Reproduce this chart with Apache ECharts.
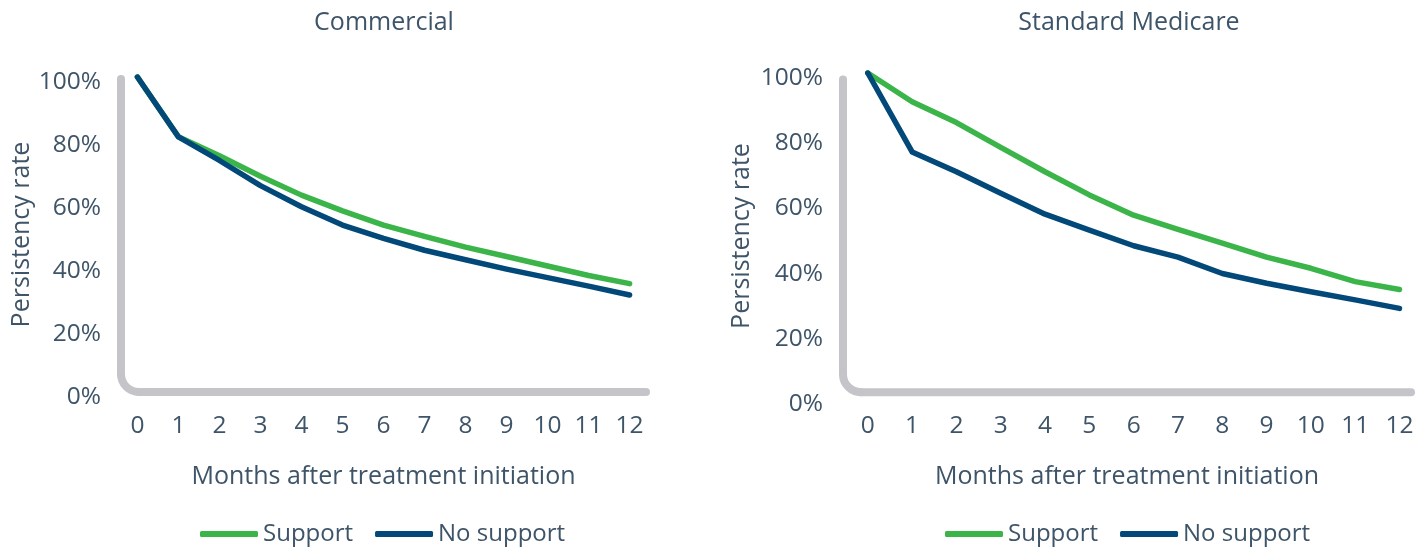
<!DOCTYPE html>
<html>
<head>
<meta charset="utf-8">
<script src="https://cdn.jsdelivr.net/npm/echarts@6/dist/echarts.min.js"></script>
<style>
  html, body { margin: 0; padding: 0; background: #fff; }
  #chart { width: 1428px; height: 549px; }
</style>
</head>
<body>
<div id="chart"></div>
<script>
const months = [0, 1, 2, 3, 4, 5, 6, 7, 8, 9, 10, 11, 12];
const yTicks = [0, 20, 40, 60, 80, 100];

const commercialSupport = [100, 81, 75, 68.5, 62.5, 57.5, 53, 49.4, 46, 43, 40, 37, 34.4];
const commercialNoSupport = [100, 81, 73.5, 65.5, 58.8, 53, 48.8, 45, 42, 39, 36.3, 33.6, 30.8];
const medicareSupport = [100, 91.2, 84.8, 77.2, 69.7, 62.6, 56.4, 52, 47.8, 43.5, 40.1, 36, 33.6];
const medicareNoSupport = [100, 75.8, 69.7, 63.1, 56.7, 51.8, 47, 43.5, 38.5, 35.5, 32.9, 30.4, 27.8];

const titles = ['Commercial', 'Standard Medicare'];
const seriesNames = ['Support', 'No support'];

const GREEN = '#3bb54a';
const BLUE = '#02497a';
const AXIS_GRAY = '#c5c4c9';
const TEXT = '#3e5468';
const FONT = 'Open Sans';

// panel layout (grids) and the x range shown
const panels = [
  { left: 121, right: 782, top: 77, bottom: 157, xMin: -0.4, xMax: 12.4, labelMargin: 22, nameGap: 72, yNameGap: 85, axisTop: 99.4, axisBase: 0, titleX: 379, legendX: 200 },
  { left: 843, right: 17, top: 73, bottom: 150, xMin: -0.56, xMax: 12.26, labelMargin: 15, nameGap: 65, yNameGap: 89, axisTop: 98, axisBase: 2.1, titleX: 1124, legendX: 945 }
];
const panelData = [
  [commercialSupport, commercialNoSupport],
  [medicareSupport, medicareNoSupport]
];

const textStyle = { fontFamily: FONT, color: TEXT, fontSize: 25 };
const tickStyle = { fontFamily: FONT, color: TEXT, fontSize: 24.5 };

const chart = echarts.init(document.getElementById('chart'));

const option = {
  animation: false,
  textStyle: { fontFamily: FONT },
  title: panels.map((p, i) => ({
    text: titles[i],
    left: p.titleX,
    top: 5,
    textAlign: 'center',
    textStyle: { ...textStyle, fontWeight: 'normal' }
  })),
  legend: panels.map((p, i) => ({
    data: seriesNames.map(n => n + (i === 0 ? '' : ' ')),
    formatter: n => n.trim(),
    left: p.legendX,
    top: 522,
    padding: 0,
    itemWidth: 58,
    itemHeight: 6,
    itemGap: 22,
    icon: 'roundRect',
    textStyle: { fontFamily: FONT, color: TEXT, fontSize: 24 }
  })),
  grid: panels.map(p => ({
    left: p.left, right: p.right, top: p.top, bottom: p.bottom, containLabel: false
  })),
  xAxis: panels.map((p, i) => ({
    type: 'value',
    gridIndex: i,
    min: p.xMin,
    max: p.xMax,
    name: 'Months after treatment initiation',
    nameLocation: 'middle',
    nameGap: p.nameGap,
    nameTextStyle: textStyle,
    axisLine: { show: false },
    axisTick: { show: false },
    splitLine: { show: false },
    axisLabel: {
      customValues: months,
      margin: p.labelMargin,
      ...tickStyle
    }
  })),
  yAxis: panels.map((p, i) => ({
    type: 'value',
    gridIndex: i,
    min: 0,
    max: 100,
    interval: 20,
    name: 'Persistency rate',
    nameLocation: 'middle',
    nameGap: p.yNameGap,
    nameTextStyle: textStyle,
    axisLine: { show: false },
    axisTick: { show: false },
    splitLine: { show: false },
    axisLabel: {
      customValues: yTicks,
      formatter: '{value}%',
      margin: 20,
      verticalAlign: 'top',
      lineHeight: 10,
      ...tickStyle
    }
  })),
  series: []
};

panelData.forEach((pair, i) => {
  pair.forEach((vals, j) => {
    option.series.push({
      type: 'line',
      name: seriesNames[j] + (i === 0 ? '' : ' '),
      xAxisIndex: i,
      yAxisIndex: i,
      data: months.map((m, k) => [m, vals[k]]),
      showSymbol: false,
      symbol: 'none',
      color: j === 0 ? GREEN : BLUE,
      lineStyle: { width: 5.5, color: j === 0 ? GREEN : BLUE, cap: 'round', join: 'round' },
      z: j === 0 ? 2 : 3
    });
  });
});

chart.setOption(option);

// rounded L-shaped axis line, placed via the axis scales
const r = 18;
const axisLineStyle = { fill: null, stroke: AXIS_GRAY, lineWidth: 8, lineCap: 'round' };
const elements = [];
panels.forEach((p, i) => {
  const tl = chart.convertToPixel({ gridIndex: i }, [p.xMin, p.axisTop]);
  const br = chart.convertToPixel({ gridIndex: i }, [p.xMax, p.axisBase]);
  const x0 = tl[0], y0 = tl[1], x1 = br[0], y1 = br[1];
  elements.push(
    { type: 'line', silent: true, z: 1, shape: { x1: x0, y1: y0, x2: x0, y2: y1 - r }, style: axisLineStyle },
    { type: 'arc', silent: true, z: 1, shape: { cx: x0 + r, cy: y1 - r, r: r, startAngle: Math.PI / 2, endAngle: Math.PI, clockwise: true }, style: axisLineStyle },
    { type: 'line', silent: true, z: 1, shape: { x1: x0 + r, y1: y1, x2: x1, y2: y1 }, style: axisLineStyle }
  );
});
chart.setOption({ graphic: { elements: elements } });
</script>
</body>
</html>
